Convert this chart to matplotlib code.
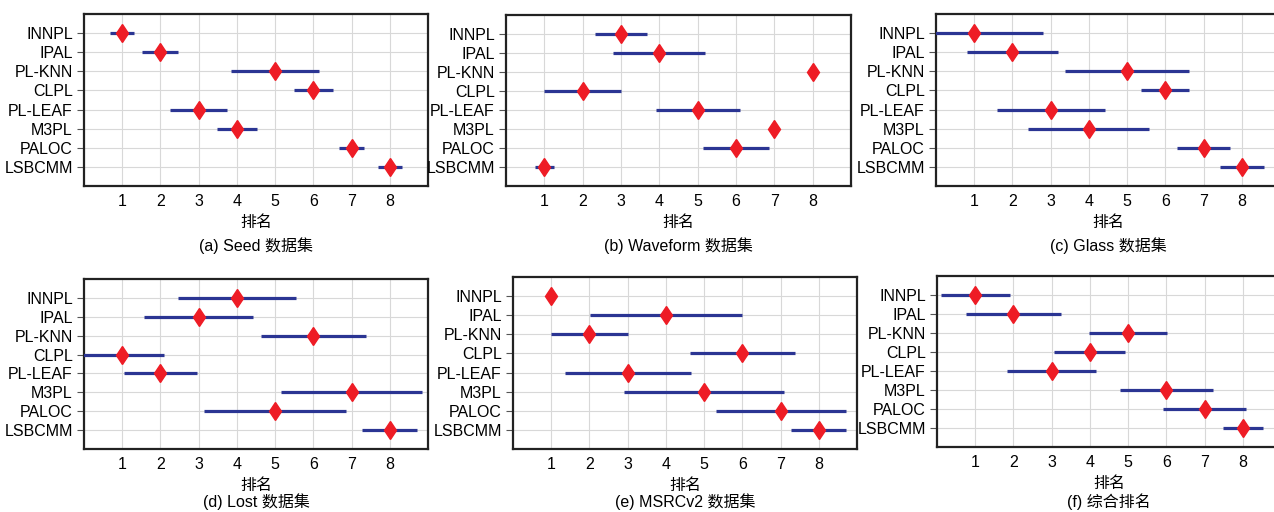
import matplotlib
matplotlib.use("Agg")
import matplotlib.pyplot as plt
import numpy as np

plt.rcParams['font.family'] = ['Liberation Sans', 'Noto Sans CJK SC', 'DejaVu Sans']

methods = ["INNPL", "IPAL", "PL-KNN", "CLPL", "PL-LEAF", "M3PL", "PALOC", "LSBCMM"]

seed_rank = [1, 2, 5, 6, 3, 4, 7, 8]
seed_err = [0.32, 0.47, 1.16, 0.51, 0.75, 0.53, 0.32, 0.32]

waveform_rank = [3, 4, 8, 2, 5, 7, 6, 1]
waveform_err = [0.69, 1.2, 0.0, 1.0, 1.1, 0.0, 0.87, 0.24]

glass_rank = [1, 2, 5, 6, 3, 4, 7, 8]
glass_err = [1.8, 1.18, 1.63, 0.63, 1.41, 1.58, 0.69, 0.57]

lost_rank = [4, 3, 6, 1, 2, 7, 5, 8]
lost_err = [1.54, 1.42, 1.37, 1.1, 0.95, 1.85, 1.86, 0.72]

msrc_rank = [1, 4, 2, 6, 3, 5, 7, 8]
msrc_err = [0.07, 1.98, 1.01, 1.37, 1.65, 2.1, 1.7, 0.72]

overall_rank = [1, 2, 5, 4, 3, 6, 7, 8]
overall_err = [0.9, 1.24, 1.03, 0.93, 1.17, 1.21, 1.08, 0.52]

captions = ["(a) Seed 数据集", "(b) Waveform 数据集", "(c) Glass 数据集",
            "(d) Lost 数据集", "(e) MSRCv2 数据集", "(f) 综合排名"]
xlabel = "排名"
xticks = [1, 2, 3, 4, 5, 6, 7, 8]

data = [(seed_rank, seed_err), (waveform_rank, waveform_err), (glass_rank, glass_err),
        (lost_rank, lost_err), (msrc_rank, msrc_err), (overall_rank, overall_err)]

W, H = 1274, 512
fig = plt.figure(figsize=(W / 100, H / 100), dpi=100)

# pixel rects: left, top, right, bottom
rects = [(84, 14, 428, 186), (506, 15, 851, 186), (936, 14, 1280, 186),
         (84, 279, 428, 449), (513, 277, 857, 449), (937, 276, 1281, 447)]
caption_y = [246, 246, 246, 502, 502, 502]

blue = "#2b3593"
red = "#ee1c25"

for (ranks, errs), cap, (l, t, r, b), cy in zip(data, captions, rects, caption_y):
    ax = fig.add_axes([l / W, 1 - b / H, (r - l) / W, (b - t) / H])
    y = np.arange(1, len(methods) + 1)
    ax.errorbar(ranks, y, xerr=errs, fmt='none', ecolor=blue, elinewidth=2.3,
                capsize=0, zorder=3)
    ax.plot(ranks, y, linestyle='none', marker='d', markersize=9.5,
            color=red, markeredgecolor=red, zorder=4)
    ax.set_xlim(0, 9)
    ax.set_ylim(9, 0)
    ax.set_xticks(xticks)
    ax.set_yticks(y)
    ax.set_yticklabels(methods)
    ax.grid(True, color="#d8d8d8", linewidth=0.8, zorder=0)
    ax.set_axisbelow(True)
    for s in ax.spines.values():
        s.set_linewidth(1.6)
        s.set_color("#222222")
    ax.tick_params(axis='y', direction='out', length=5, width=0.8, color="#555555",
                   labelsize=11.5, pad=3)
    ax.tick_params(axis='x', direction='in', length=0, labelsize=11.5, pad=6)
    ax.set_xlabel(xlabel, fontsize=11.5, labelpad=4)
    hpx = b - t
    ax.text(0.5, -(cy - b) / hpx, cap, transform=ax.transAxes, ha='center', va='center',
            fontsize=11.5)

fig.savefig("out.png", dpi=100)
